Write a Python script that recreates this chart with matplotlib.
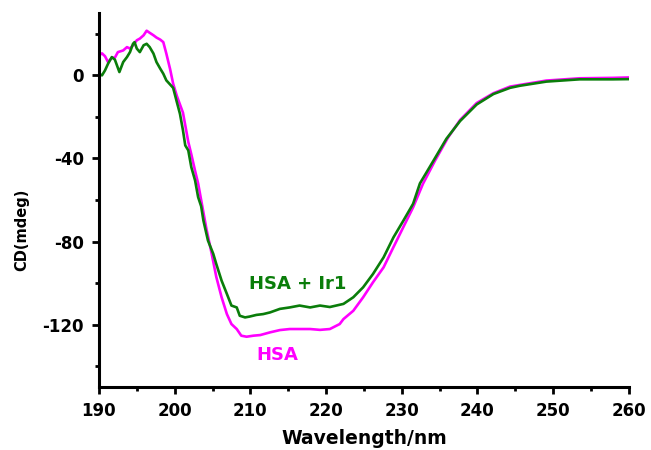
import numpy as np
import matplotlib.pyplot as plt
from matplotlib.ticker import MultipleLocator

plt.rcParams['font.family'] = ['DejaVu Sans']
plt.rcParams['font.weight'] = 'bold'
plt.rcParams['axes.unicode_minus'] = False

# CD spectrum of HSA (free protein)
wl_hsa = [190.0, 190.4, 190.8, 191.2, 191.7, 192.1, 192.5, 193.2, 193.7, 194.1,
          194.5, 195.0, 195.4, 195.9, 196.3, 196.7, 197.2, 197.6, 198.1, 198.5,
          198.9, 199.4, 199.8, 200.3, 200.7, 201.1, 201.4, 201.8, 202.2, 202.7,
          203.1, 203.5, 204.2, 204.9, 205.5, 206.2, 206.9, 207.5, 208.2, 208.8,
          209.5, 210.4, 211.3, 212.6, 213.9, 215.2, 216.5, 217.9, 219.2, 220.5,
          221.8, 222.3, 223.6, 224.9, 226.2, 227.6, 228.9, 230.2, 231.5, 232.8,
          234.4, 236.1, 237.7, 239.9, 242.1, 244.3, 245.6, 249.1, 253.5, 257.9,
          260.0]
cd_hsa = [9.6, 10.6, 9.2, 6.4, 8.5, 8.5, 11.2, 12.0, 13.6, 12.9,
          14.5, 16.9, 17.7, 19.3, 21.5, 20.5, 19.3, 18.2, 17.2, 16.0,
          10.5, 3.0, -4.0, -10.0, -14.0, -18.0, -24.0, -32.0, -38.0, -46.0,
          -52.0, -60.0, -74.0, -86.0, -97.0, -106.8, -114.9, -119.7, -122.1, -125.3,
          -125.8, -125.3, -125.0, -123.7, -122.6, -122.1, -122.1, -122.1, -122.5, -122.1,
          -119.7, -117.3, -113.3, -106.8, -99.6, -92.4, -82.7, -73.1, -63.5, -52.2,
          -41.0, -30.0, -21.5, -13.3, -8.6, -5.4, -4.6, -2.5, -1.4, -1.2,
          -1.0]

# CD spectrum of HSA in presence of Ir1
wl_ir1 = [190.0, 190.4, 190.8, 191.2, 191.7, 192.1, 192.7, 193.2, 193.7, 194.1,
          194.5, 194.7, 195.0, 195.4, 195.9, 196.3, 196.7, 197.2, 197.6, 198.1,
          198.5, 198.9, 199.4, 199.8, 200.3, 200.7, 201.1, 201.4, 201.8, 202.2,
          202.7, 203.1, 203.5, 203.8, 204.4, 205.1, 205.5, 206.2, 206.9, 207.5,
          208.2, 208.6, 209.3, 209.9, 210.8, 211.7, 212.6, 213.9, 215.2, 216.5,
          217.9, 219.2, 220.5, 222.3, 223.6, 224.9, 226.2, 227.6, 228.9, 230.2,
          231.5, 232.4, 234.2, 235.9, 237.7, 239.9, 242.1, 244.3, 245.6, 249.1,
          253.5, 257.9, 260.0]
cd_ir1 = [0.8, 0.0, 2.4, 5.6, 8.8, 7.6, 1.6, 6.4, 8.8, 11.2,
          15.2, 16.0, 12.9, 11.2, 14.5, 15.2, 13.6, 10.5, 6.4, 3.2,
          0.8, -2.4, -4.4, -6.0, -13.0, -18.5, -26.5, -33.7, -36.1, -44.2,
          -50.6, -58.6, -63.0, -69.9, -79.5, -85.9, -90.8, -98.8, -105.2, -110.8,
          -111.7, -115.7, -116.5, -116.1, -115.3, -114.9, -114.1, -112.4, -111.7, -110.8,
          -111.7, -110.8, -111.5, -110.0, -106.8, -102.0, -95.6, -87.6, -78.0, -70.0,
          -61.8, -52.0, -41.0, -30.5, -22.0, -14.0, -9.0, -6.0, -5.0, -3.0,
          -1.9, -1.9, -1.8]

magenta = '#ff00ff'
green = '#0a7d0a'

fig = plt.figure(figsize=(6.51, 4.5), dpi=100)
ax = fig.add_axes([0.152, 0.14, 0.814, 0.831])

ax.plot(wl_hsa, cd_hsa, color=magenta, linewidth=1.9)
ax.plot(wl_ir1, cd_ir1, color=green, linewidth=1.9)

ax.set_xlim(190, 260)
ax.set_ylim(-150, 30)
ax.xaxis.set_major_locator(MultipleLocator(10))
ax.xaxis.set_minor_locator(MultipleLocator(5))
ax.yaxis.set_major_locator(MultipleLocator(40))
ax.yaxis.set_minor_locator(MultipleLocator(20))

for side in ['top', 'right']:
    ax.spines[side].set_visible(False)
for side in ['left', 'bottom']:
    ax.spines[side].set_linewidth(2.2)

ax.tick_params(which='major', direction='out', length=5, width=2, labelsize=12, pad=6)
ax.tick_params(which='minor', direction='out', length=3, width=2)

ax.set_xlabel('Wavelength/nm', fontsize=13.5, fontweight='bold', labelpad=6)
# y label sits a little below the axis middle
fig.text(0.034, 0.49, 'CD(mdeg)', rotation=90, ha='center', va='center',
         fontsize=10.5, fontweight='bold')

ax.text(216.3, -100.3, 'HSA + Ir1', color=green, fontsize=13, fontweight='bold',
        ha='center', va='center')
ax.text(213.6, -134.5, 'HSA', color=magenta, fontsize=13, fontweight='bold',
        ha='center', va='center')

fig.savefig('out.png', dpi=100)
